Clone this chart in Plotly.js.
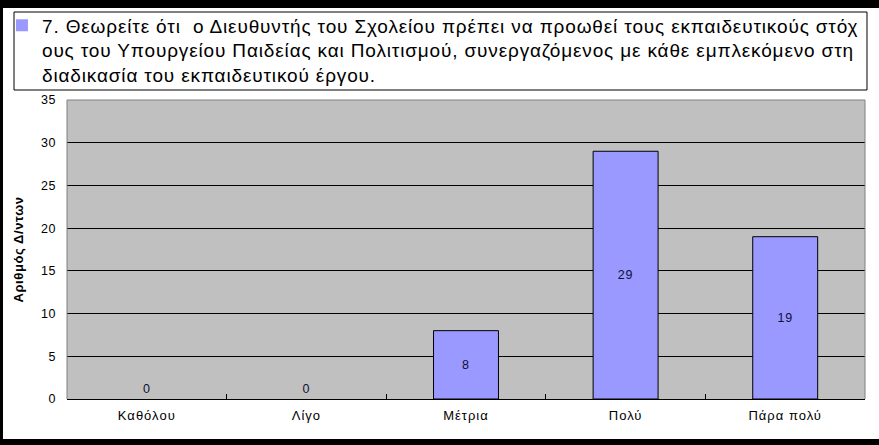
<!DOCTYPE html>
<html>
<head>
<meta charset="utf-8">
<script src="https://cdn.plot.ly/plotly-3.0.1.min.js"></script>
<style>
  html, body { margin: 0; padding: 0; background: #000; width: 879px; height: 445px; overflow: hidden; }
  #chart { position: absolute; left: 3px; top: 8px; width: 876px; height: 431px; }
  #chart .legendtext { letter-spacing: 0.85px; }
  #chart .legend .scrollbox { clip-path: none !important; }
  #chart .ytitle { letter-spacing: 0.6px; }
  #chart .xtick text { letter-spacing: 1px; }
  #chart .ytick text { letter-spacing: 0.6px; }
  #chart .bartext { letter-spacing: 0.8px; }
</style>
</head>
<body>
<div id="chart"></div>
<script>
// ---- data ----
const categories = ["Καθόλου", "Λίγο", "Μέτρια", "Πολύ", "Πάρα πολύ"];
const values = [0, 0, 8, 29, 19];
const seriesName = "7. Θεωρείτε ότι&nbsp; ο Διευθυντής του Σχολείου πρέπει να προωθεί τους εκπαιδευτικούς στόχ<br>ους του Υπουργείου Παιδείας και Πολιτισμού, συνεργαζόμενος με κάθε εμπλεκόμενο στη<br>διαδικασία του εκπαιδευτικού έργου.";
const yTitle = "Αριθμός Δ/ντων";
const yTicks = [0, 5, 10, 15, 20, 25, 30, 35];

const FONT = "Liberation Sans, Arial, sans-serif";

const trace = {
  type: "bar",
  x: categories,
  y: values,
  name: seriesName,
  showlegend: true,
  marker: {
    color: "#9999FF",
    line: { color: "#000000", width: values.map(v => v === 0 ? 0 : 1) }
  },
  text: values.map(String),
  textposition: values.map(v => v === 0 ? "outside" : "inside"),
  insidetextanchor: "middle",
  textangle: 0,
  cliponaxis: false,
  insidetextfont: { family: FONT, size: 12.5, color: "#111133" },
  outsidetextfont: { family: FONT, size: 12.5, color: "#111133" },
  hoverinfo: "x+y"
};

const layout = {
  width: 876,
  height: 431,
  margin: { l: 64, r: 14, t: 92, b: 40, autoexpand: false },
  paper_bgcolor: "#FFFFFF",
  plot_bgcolor: "#C0C0C0",
  font: { family: FONT, size: 12, color: "#000000" },
  bargap: 0.593,
  showlegend: true,
  legend: {
    x: -0.0815, xanchor: "left",
    y: 1.313, yanchor: "top",
    bgcolor: "rgba(0,0,0,0)",
    borderwidth: 0,
    valign: "top",
    font: { family: FONT, size: 19, color: "#000000" },
    itemclick: false, itemdoubleclick: false
  },
  xaxis: {
    type: "category",
    showgrid: false,
    showline: true,
    linecolor: "#000000",
    linewidth: 1,
    ticks: "inside",
    tickson: "boundaries",
    ticklen: 5,
    tickcolor: "#000000",
    ticklabelstandoff: 4,
    tickfont: { family: FONT, size: 13, color: "#000000" },
    fixedrange: true
  },
  yaxis: {
    range: [0, 35],
    tickvals: yTicks,
    ticktext: yTicks.map(String),
    showgrid: true,
    gridcolor: "#000000",
    gridwidth: 1,
    zeroline: false,
    showline: false,
    ticks: "",
    ticklabelstandoff: 10,
    automargin: true,
    tickfont: { family: FONT, size: 12.5, color: "#000000" },
    title: { text: "<b>" + yTitle + "</b>", standoff: 15, font: { family: FONT, size: 13, color: "#000000" } },
    fixedrange: true
  },
  shapes: [
    // plot area border (grey) on left, top, right
    { type: "path", xref: "paper", yref: "paper", path: "M0,0 L0,1 L1,1 L1,0",
      line: { color: "#808080", width: 1 }, layer: "above" },
    // legend box
    { type: "rect", xref: "paper", yref: "paper",
      x0: -0.0664, x1: 1.0025, y0: 1.0334, y1: 1.2943,
      line: { color: "#000000", width: 1 }, fillcolor: "rgba(0,0,0,0)", layer: "below" }
  ]
};

Plotly.newPlot("chart", [trace], layout, { displayModeBar: false, staticPlot: false, responsive: false });
</script>
</body>
</html>
